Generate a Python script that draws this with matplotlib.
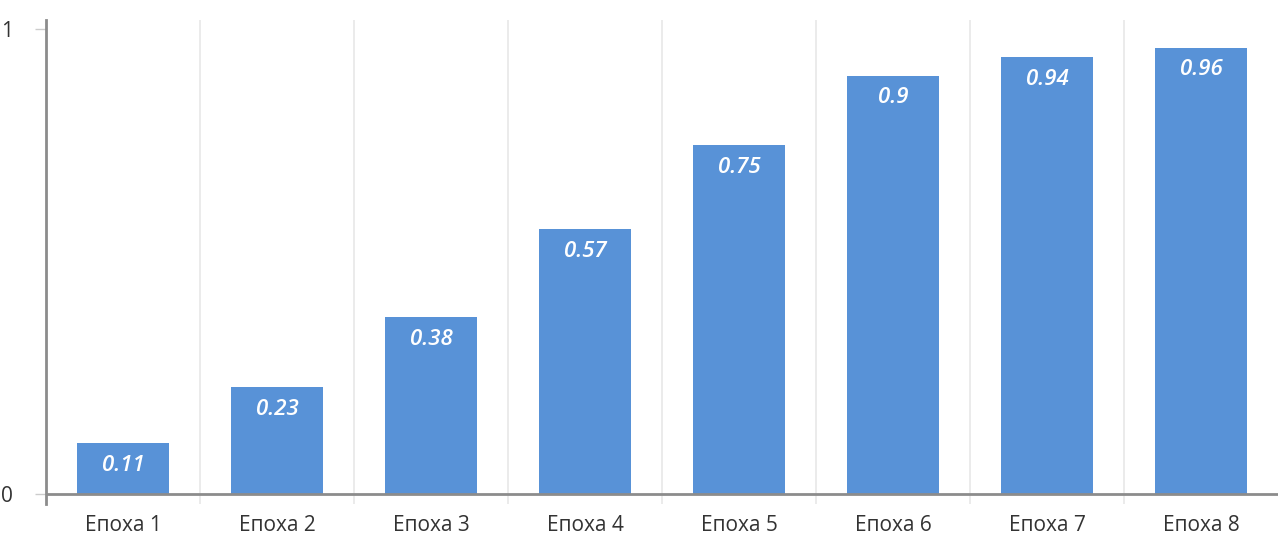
import matplotlib
matplotlib.use("Agg")
import matplotlib.pyplot as plt
import numpy as np

categories = ["Епоха 1", "Епоха 2", "Епоха 3", "Епоха 4",
              "Епоха 5", "Епоха 6", "Епоха 7", "Епоха 8"]
values = [0.11, 0.23, 0.38, 0.57, 0.75, 0.90, 0.94, 0.96]
y_ticks = [0, 1]

plt.rcParams['font.family'] = ['Open Sans', 'DejaVu Sans']

W, H = 1279, 536
fig = plt.figure(figsize=(W / 100, H / 100), dpi=100)
left, right, top, bottom = 46, 1278, 20, 504
ax = fig.add_axes([left / W, 1 - bottom / H, (right - left) / W, (bottom - top) / H])

x = np.arange(len(categories))
bar_color = "#5892d7"
ax.bar(x, values, width=0.6, color=bar_color, zorder=3)

for xi, v in zip(x, values):
    ax.annotate(f"{v:g}", (xi, v), xytext=(0, -16), textcoords="offset points",
                ha="center", va="center", color="white", fontsize=16,
                style="italic", fontweight="semibold", zorder=4)

ax.set_xlim(-0.5, len(categories) - 0.5)
ax.set_ylim(-0.0215, 1.0195)

# category separators
for b in np.arange(0.5, len(categories) - 0.5, 1):
    ax.axvline(b, color="#e8e8e8", lw=1.2, zorder=1)

ax.axhline(0, color="#8c8c8c", lw=2, zorder=5)

for s in ["top", "right", "bottom"]:
    ax.spines[s].set_visible(False)
ax.spines["left"].set_color("#8c8c8c")
ax.spines["left"].set_linewidth(2)

ax.set_yticks(y_ticks)
ax.set_yticklabels([str(t) for t in y_ticks])
ax.tick_params(axis="y", length=8, width=1, color="#cccccc", labelsize=15,
               labelcolor="#333333", pad=16)
ax.set_xticks(x)
ax.set_xticklabels(categories)
ax.tick_params(axis="x", length=0, labelsize=15, labelcolor="#333333", pad=8)

fig.savefig("out.png", dpi=100, facecolor="white")
